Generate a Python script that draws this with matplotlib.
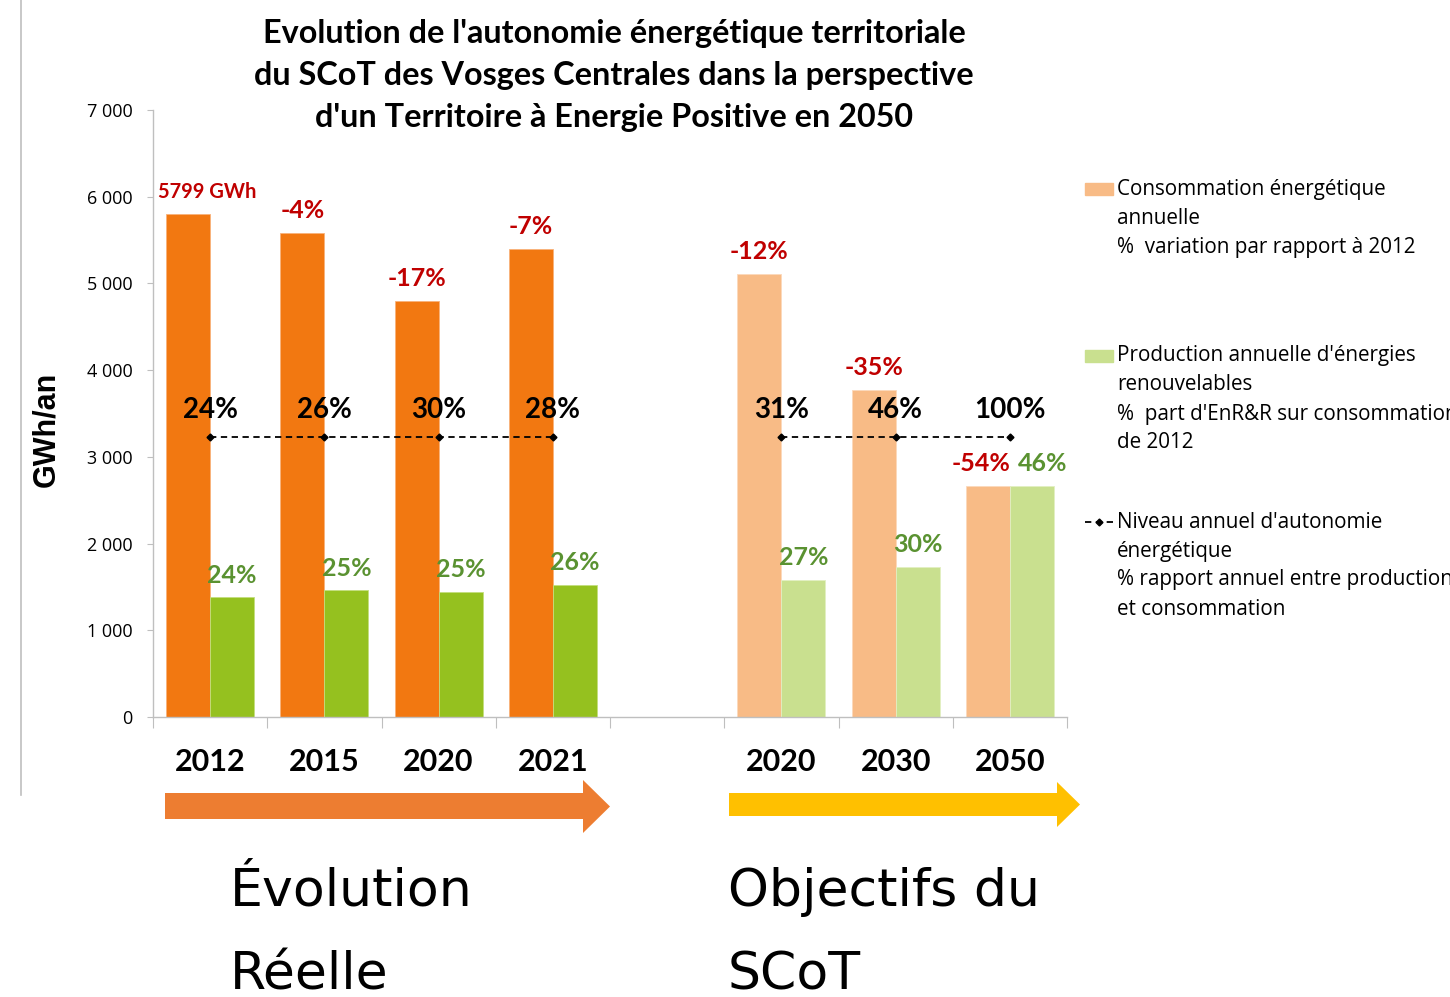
import numpy as np
import matplotlib
matplotlib.use("Agg")
import matplotlib.pyplot as plt
from matplotlib.patches import Polygon, Rectangle
from matplotlib.lines import Line2D

# donnees (GWh/an)
years_real = ['2012', '2015', '2020', '2021']
conso_real = [5799, 5582, 4798, 5397]
prod_real = [1380, 1460, 1442, 1526]
conso_lbl_real = ['5799 GWh', '-4%', '-17%', '-7%']
prod_lbl_real = ['24%', '25%', '25%', '26%']
auto_lbl_real = ['24%', '26%', '30%', '28%']

years_obj = ['2020', '2030', '2050']
conso_obj = [5109, 3771, 2664]
prod_obj = [1580, 1730, 2664]
conso_lbl_obj = ['-12%', '-35%', '-54%']
prod_lbl_obj = ['27%', '30%', '46%']
auto_lbl_obj = ['31%', '46%', '100%']

# niveau ou est trace la ligne d'autonomie
auto_level_real = [3230, 3230, 3230, 3230]
auto_level_obj = [3230, 3230, 3230]

yticks = [0, 1000, 2000, 3000, 4000, 5000, 6000, 7000]

W, H = 1450, 997
def fx(px):
    return px / W
def fy(py):
    return 1 - py / H

ORANGE = '#F27811'
GREEN = '#95C11F'
ORANGE_L = '#F8BB86'
GREEN_L = '#C9E08F'
RED = '#C00000'
GTXT = '#5A9231'
GRAY = '#BFBFBF'
TF = 'Lato'

fig = plt.figure(figsize=(14.5, 9.97), dpi=100)
ax = fig.add_axes([fx(153), fy(717), 914 / W, 607 / H])

x_real = np.arange(len(years_real)) + 0.5
x_obj = np.arange(len(years_obj)) + 5.5
bw = 0.385

ax.bar(x_real - bw / 2, conso_real, bw, color=ORANGE, edgecolor='#F9B27A', linewidth=0.6)
ax.bar(x_real + bw / 2, prod_real, bw, color=GREEN, edgecolor='#C4DE7E', linewidth=0.6)
ax.bar(x_obj - bw / 2, conso_obj, bw, color=ORANGE_L, edgecolor='#FBD9BB', linewidth=0.6)
ax.bar(x_obj + bw / 2, prod_obj, bw, color=GREEN_L, edgecolor='#E2EFC2', linewidth=0.6)

dash = (0, (3.5, 2.5))
ax.plot(x_real, auto_level_real, color='k', ls=dash, lw=1.3, marker='D', ms=3.5)
ax.plot(x_obj, auto_level_obj, color='k', ls=dash, lw=1.3, marker='D', ms=3.5)

ax.set_xlim(0, 8)
ax.set_ylim(0, 7000)
for s in ['top', 'right']:
    ax.spines[s].set_visible(False)
for s in ['left', 'bottom']:
    ax.spines[s].set_color(GRAY)
    ax.spines[s].set_linewidth(1.0)

ax.set_yticks(yticks)
ax.set_yticklabels([f"{v:,}".replace(',', ' ') for v in yticks], fontfamily='Open Sans', fontsize=13)
ax.tick_params(axis='y', length=4.5, color=GRAY, pad=10)
ax.set_xticks(np.arange(0, 9))
ax.set_xticklabels([])
ax.tick_params(axis='x', length=8, color=GRAY)

# etiquettes des annees
for x, lab in list(zip(x_real, years_real)) + list(zip(x_obj, years_obj)):
    ax.annotate(lab, xy=(x, 0), xycoords=('data', 'axes fraction'), xytext=(0, -32.5),
                textcoords='offset points', ha='center', va='center',
                fontfamily=TF, fontweight='bold', fontsize=22)

# etiquettes consommation (rouge)
xoff_conso = {0: 14, 6: -5}
for i, (x, v, lab) in enumerate(zip(list(x_real) + list(x_obj), conso_real + conso_obj,
                                    conso_lbl_real + conso_lbl_obj)):
    ax.annotate(lab, xy=(x - bw / 2, v), xytext=(xoff_conso.get(i, 0), 16),
                textcoords='offset points', ha='center', va='center', color=RED,
                fontfamily=TF, fontweight='bold', fontsize=14.5 if i == 0 else 18)

# etiquettes production (vert)
xoff_prod = {6: 8}
for i, (x, v, lab) in enumerate(zip(list(x_real) + list(x_obj), prod_real + prod_obj,
                                    prod_lbl_real + prod_lbl_obj)):
    ax.annotate(lab, xy=(x + bw / 2, v), xytext=(xoff_prod.get(i, 0), 16),
                textcoords='offset points', ha='center', va='center', color=GTXT,
                fontfamily=TF, fontweight='bold', fontsize=18)

# etiquettes autonomie
for x, v, lab in zip(list(x_real) + list(x_obj), auto_level_real + auto_level_obj,
                     auto_lbl_real + auto_lbl_obj):
    ax.annotate(lab, xy=(x, v), xytext=(0, 19.5), textcoords='offset points',
                ha='center', va='center', color='k',
                fontfamily=TF, fontweight='bold', fontsize=20)

# titre
title = ["Evolution de l'autonomie énergétique territoriale",
         "du SCoT des Vosges Centrales dans la perspective",
         "d'un Territoire à Energie Positive en 2050"]
for k, line in enumerate(title):
    fig.text(fx(614), fy(33 + 42 * k), line, ha='center', va='center',
             fontfamily=TF, fontweight='bold', fontsize=23.3)

fig.text(fx(46), fy(429), 'GWh/an', rotation=90, ha='center', va='center',
         fontfamily='Liberation Sans', fontweight='bold', fontsize=22)

# cadre gris a gauche
fig.add_artist(Line2D([fx(21), fx(21)], [fy(0), fy(795)], transform=fig.transFigure,
                      color=GRAY, lw=1.2))

# legende
leg = [(ORANGE_L, 189, ["Consommation énergétique", "annuelle", "%  variation par rapport à 2012"]),
       (GREEN_L, 356, ["Production annuelle d'énergies", "renouvelables",
                       "%  part d'EnR&R sur consommation", "de 2012"]),
       (None, 522, ["Niveau annuel d'autonomie", "énergétique",
                    "% rapport annuel entre production", "et consommation"])]
for col, y0, lines in leg:
    if col is not None:
        fig.add_artist(Rectangle((fx(1085), fy(y0 + 6)), 28 / W, 12 / H,
                                 transform=fig.transFigure, color=col))
    else:
        fig.add_artist(Line2D([fx(1085), fx(1113)], [fy(y0), fy(y0)], transform=fig.transFigure,
                              color='k', ls=dash, lw=1.3))
        fig.add_artist(Line2D([fx(1099)], [fy(y0)], transform=fig.transFigure,
                              color='k', marker='D', ms=3.5))
    for k, line in enumerate(lines):
        fig.text(fx(1117), fy(y0 + 29 * k), line, ha='left', va='center',
                 fontfamily='Open Sans', fontsize=14.9)

# fleches
def arrow(x0, x1, xtip, yb0, yb1, yh0, yh1, color):
    yc = (yh0 + yh1) / 2
    pts = [(x0, yb0), (x1, yb0), (x1, yh0), (xtip, yc), (x1, yh1), (x1, yb1), (x0, yb1)]
    fig.add_artist(Polygon([(fx(a), fy(b)) for a, b in pts], closed=True,
                           transform=fig.transFigure, facecolor=color, edgecolor='none'))

arrow(165, 583, 610, 793, 819, 780, 833, '#ED7D31')
arrow(729, 1057, 1080, 793, 816, 782, 827, '#FFC000')

for txt, x, y in [("Évolution", 230, 906), ("Réelle", 230, 989),
                  ("Objectifs du", 728, 906), ("SCoT", 728, 989)]:
    fig.text(fx(x), fy(y), txt, ha='left', va='baseline',
             fontfamily='DejaVu Sans', fontsize=37.5)

fig.savefig('out.png', dpi=100)
